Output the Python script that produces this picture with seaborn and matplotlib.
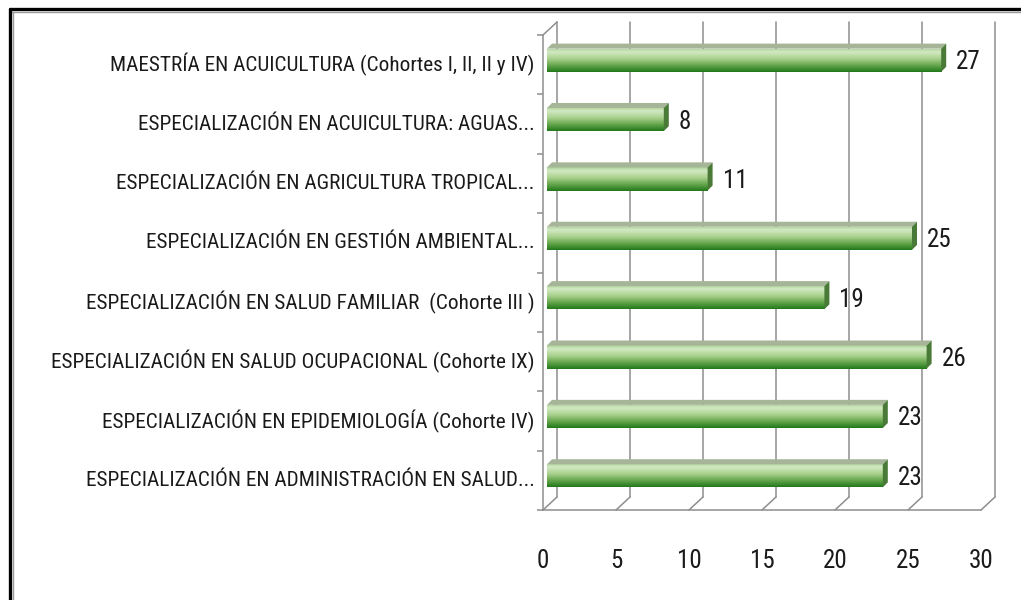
import numpy as np
import pandas as pd
import matplotlib
matplotlib.use("Agg")
import matplotlib.pyplot as plt
import seaborn as sns
from matplotlib import font_manager
from matplotlib.patches import Polygon
from matplotlib.lines import Line2D
from matplotlib.colors import LinearSegmentedColormap

# ---------------- data ----------------
categories = [
    "MAESTRÍA EN ACUICULTURA (Cohortes I, II, II y IV)",
    "ESPECIALIZACIÓN EN ACUICULTURA: AGUAS...",
    "ESPECIALIZACIÓN EN AGRICULTURA TROPICAL...",
    "ESPECIALIZACIÓN EN GESTIÓN AMBIENTAL...",
    "ESPECIALIZACIÓN EN SALUD FAMILIAR  (Cohorte III )",
    "ESPECIALIZACIÓN EN SALUD OCUPACIONAL (Cohorte IX)",
    "ESPECIALIZACIÓN EN EPIDEMIOLOGÍA (Cohorte IV)",
    "ESPECIALIZACIÓN EN ADMINISTRACIÓN EN SALUD...",
]
values = [27, 8, 11, 25, 19, 26, 23, 23]
x_ticks = [0, 5, 10, 15, 20, 25, 30]
x_max = 30

# ---------------- style ----------------
sns.set_style("white")
names = {f.name for f in font_manager.fontManager.ttflist}
fam, stretch = "DejaVu Sans", "condensed"
for cand in ["Liberation Sans Narrow", "Roboto Condensed", "Open Sans Condensed",
             "Noto Sans Condensed", "DejaVu Sans Condensed"]:
    if cand in names:
        fam, stretch = cand, "normal"
        break
plt.rcParams["font.family"] = [fam, "DejaVu Sans"]
plt.rcParams["font.stretch"] = stretch

GRID = "#8e8e8e"
FW, FH = 1021, 600
fig = plt.figure(figsize=(FW / 100, FH / 100), dpi=100)
L, R, B, T = 543, 981, 510, 35
ax = fig.add_axes([L / FW, 1 - B / FH, (R - L) / FW, (B - T) / FH])

df = pd.DataFrame({"programa": categories, "n": values})
sns.barplot(data=df, x="n", y="programa", orient="h", width=0.39,
            color="#5da146", saturation=1, edgecolor="none", ax=ax, zorder=2)
n_cat = len(categories)
ax.set_xlim(0, x_max)
ax.set_ylim(n_cat - 0.5, -0.5)

ux = (R - L) / x_max          # px per x unit
uy = (B - T) / n_cat          # px per category


def off(dx_px, dy_px):
    return dx_px / ux, -dy_px / uy


cmap = LinearSegmentedColormap.from_list(
    "bar", [(0.0, "#a9cf94"), (0.15, "#d3e9c4"), (0.45, "#a8d18c"),
            (0.75, "#5fa247"), (1.0, "#22781b")])
grad = np.linspace(0, 1, 64).reshape(-1, 1)

sx, sy = off(4, 4.5)
bdx, bdy = off(5, 5)
for p, v in zip(list(ax.patches), values):
    x0 = p.get_x() + sx
    y0 = p.get_y() + sy
    p.set_x(x0)
    p.set_y(y0)
    w, h = p.get_width(), p.get_height()
    x1, yt, yb = x0 + w, y0, y0 + h
    im = ax.imshow(grad, extent=(x0, x1, yb, yt), aspect="auto", cmap=cmap,
                   origin="upper", zorder=2.1, interpolation="bilinear")
    im.set_clip_path(p)
    ax.add_patch(Polygon([(x0, yt), (x0 + bdx, yt + bdy), (x1 + bdx, yt + bdy), (x1, yt)],
                         closed=True, facecolor="#a6b597", edgecolor="none", zorder=2.2))
    ax.add_patch(Polygon([(x1, yt), (x1 + bdx, yt + bdy), (x1 + bdx, yb + bdy), (x1, yb)],
                         closed=True, facecolor="#4a7a38", edgecolor="none", zorder=2.2))
    tx, _ = off(15, 0)
    _, ty = off(0, -2)
    ax.text(x1 + tx, (yt + yb) / 2 + ty, f"{v}", ha="left", va="center",
            fontsize=18, color="#1a1a1a", zorder=3)

ax.set_xlim(0, x_max)
ax.set_ylim(n_cat - 0.5, -0.5)

# 3D walls
gdx, gdy = off(14, 13)
top, bot = -0.5, n_cat - 0.5
for t in x_ticks:
    ax.plot([t + gdx, t + gdx], [bot + gdy, top + gdy], color=GRID, lw=1.1,
            clip_on=False, zorder=0.5)
    ax.plot([t, t + gdx], [bot, bot + gdy], color=GRID, lw=1.1,
            clip_on=False, zorder=0.5)
ax.plot([0, gdx], [top, top + gdy], color=GRID, lw=1.1, clip_on=False, zorder=0.5)

# axes styling
for s in ["top", "right"]:
    ax.spines[s].set_visible(False)
for s in ["left", "bottom"]:
    ax.spines[s].set_color(GRID)
    ax.spines[s].set_linewidth(1.1)
ax.set_xticks(x_ticks)
ax.set_xticklabels([str(t) for t in x_ticks])
ax.tick_params(axis="x", length=5.8, width=1.1, color=GRID, pad=22,
               labelsize=18, labelcolor="#1a1a1a")
ax.set_yticks(np.arange(-0.5, n_cat, 1.0), minor=True)
ax.tick_params(axis="y", which="minor", length=4.3, width=1.1, color=GRID, left=True)
ax.tick_params(axis="y", which="major", length=0, pad=6, labelsize=15.3,
               labelcolor="#1a1a1a")
for lab in ax.get_yticklabels():
    lab.set_va("center")
ax.set_xlabel("")
ax.set_ylabel("")
ax.set_facecolor("none")

# outer frame (top and left edges visible)
fig.add_artist(Line2D([10 / FW, 1], [1 - 9 / FH] * 2, transform=fig.transFigure,
                      color="black", lw=2.4))
fig.add_artist(Line2D([12 / FW, 1], [1 - 12 / FH] * 2, transform=fig.transFigure,
                      color="#9a9a9a", lw=1.0))
fig.add_artist(Line2D([10 / FW] * 2, [0, 1 - 9 / FH], transform=fig.transFigure,
                      color="black", lw=2.4))
fig.add_artist(Line2D([13 / FW] * 2, [0, 1 - 12 / FH], transform=fig.transFigure,
                      color="#9a9a9a", lw=1.0))

fig.savefig("out.png", dpi=100, facecolor="white")
